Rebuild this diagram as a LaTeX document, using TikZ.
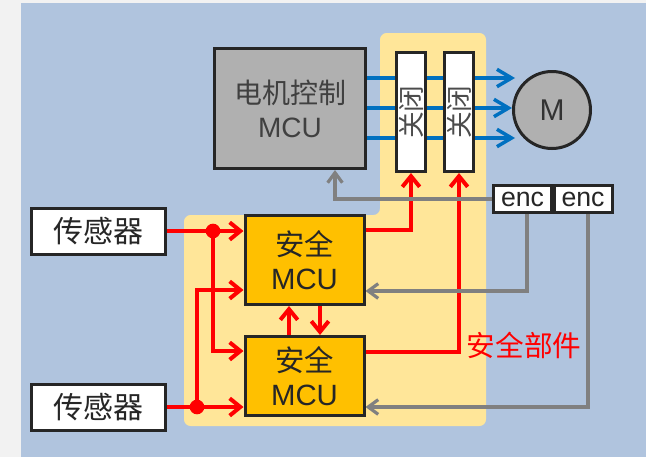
\documentclass[tikz,border=0pt]{standalone}
\usepackage{fontspec}
\setmainfont{Liberation Sans}
\newfontfamily\cjk{Noto Sans CJK SC}
\usetikzlibrary{arrows.meta,calc}
\definecolor{pagegray}{HTML}{F2F2F2}
\definecolor{bgblue}{HTML}{B0C4DE}
\definecolor{safeyellow}{HTML}{FFE699}
\definecolor{mcuorange}{HTML}{FFC000}
\definecolor{motorgray}{HTML}{B0B0B0}
\definecolor{wireblue}{HTML}{0070C0}
\definecolor{wiregray}{HTML}{808080}
\definecolor{edgedark}{HTML}{262626}
\pgfdeclarelayer{back}
\pgfdeclarelayer{wires}
\pgfsetlayers{back,wires,main}

\begin{document}
\begin{tikzpicture}[x=0.75pt, y=-0.75pt,
  box/.style={draw=edgedark, line width=2.25pt, rectangle, inner sep=0pt, align=center},
  ctrl/.style={box, fill=motorgray, text=black!75, minimum width=113.25pt, minimum height=90pt, font=\fontsize{21}{25.5}\selectfont},
  safe/.style={box, fill=mcuorange, text=black!85, minimum width=89.25pt, font=\fontsize{22}{25}\selectfont},
  switch/.style={box, fill=white, text=black!70, minimum width=21.75pt, minimum height=89.25pt, font=\fontsize{20}{20}\selectfont\cjk},
  sensor/.style={box, fill=white, text=black!85, minimum width=100.5pt, minimum height=34.5pt, font=\fontsize{22.5}{22.5}\selectfont\cjk},
  enc/.style={box, fill=white, text=black!85, minimum width=43.5pt, minimum height=20.25pt, font=\fontsize{20}{20}\selectfont},
  motor/.style={draw=edgedark, line width=2.25pt, circle, fill=motorgray, text=black!80, minimum size=57.75pt, inner sep=0pt, font=\fontsize{22.5}{22.5}\selectfont},
  dot/.style={circle, fill=red, minimum size=11pt, inner sep=0pt},
  bl/.style={-{Straight Barb[length=11pt, width=13pt]}, draw=wireblue, line width=2.6pt},
  rl/.style={-{Straight Barb[length=8pt, width=13pt]}, draw=red, line width=3pt},
  gl/.style={-{Straight Barb[length=7.5pt, width=11pt]}, draw=wiregray, line width=2.4pt}
]
  \useasboundingbox (0,0) rectangle (646,457);

  \begin{pgfonlayer}{back}
    \fill[pagegray] (0,0) rectangle (646,457);
    \fill[bgblue] (21,3) rectangle (646,457);
    \fill[safeyellow, rounded corners=5pt] (380,33) -- (486,33) -- (486,426) -- (184,426) -- (184,215) -- (380,215) -- cycle;
  \end{pgfonlayer}

  \node[ctrl] (ctrl) at (290,108.5) {{\cjk 电机控制}\\MCU};
  \node[switch] (sw1) at (411,112) {\rotatebox{90}{关闭}};
  \node[switch] (sw2) at (459,112) {\rotatebox{90}{关闭}};
  \node[motor] (motor) at (552,110) {M};
  \node[enc] (enc1) at (522.5,199) {enc};
  \node[enc] (enc2) at (583,199) {enc};
  \node[sensor] (sens1) at (98.5,231) {传感器};
  \node[sensor] (sens2) at (98.5,407) {传感器};
  \node[safe, minimum height=66.75pt] (smcu1) at (304.5,260) {{\cjk 安全}\\MCU};
  \node[safe, minimum height=59.25pt] (smcu2) at (304.5,376) {{\cjk 安全}\\MCU};
  \node[dot] (j1) at (213,231) {};
  \node[dot] (j2) at (197,407) {};
  \node[text=red, font=\fontsize{21.5}{21.5}\selectfont\cjk] (part) at (524,345) {安全部件};

  \coordinate (m1) at (515,78);
  \coordinate (m2) at (512,108);
  \coordinate (m3) at (515,138);

  \begin{pgfonlayer}{wires}
    \draw[bl] (ctrl.east |- m1) -- (m1);
    \draw[bl] (ctrl.east |- m2) -- (m2);
    \draw[bl] (ctrl.east |- m3) -- (m3);

    \draw[rl] (sens1.east |- j1) -- (smcu1.west |- j1);
    \draw[rl] (j1.center) |- (smcu2.west |- 0,351);
    \draw[rl] (sens2.east |- j2) -- (smcu2.west |- j2);
    \draw[rl] (j2.center) |- (smcu1.west |- 0,290);
    \draw[rl] (smcu2.north -| 289,0) -- (smcu1.south -| 289,0);
    \draw[rl] (smcu1.south -| 320,0) -- (smcu2.north -| 320,0);
    \draw[rl] (smcu1.east |- 0,230) -| (sw1.south);
    \draw[rl] (smcu2.east |- 0,352) -| (sw2.south);

    \draw[gl] (enc1.west) -| (ctrl.south -| 335,0);
    \draw[gl] (enc1.south -| 527,0) |- (smcu1.east |- 0,291);
    \draw[gl] (enc2.south -| 588,0) |- (smcu2.east |- 0,407);
  \end{pgfonlayer}
\end{tikzpicture}
\end{document}
